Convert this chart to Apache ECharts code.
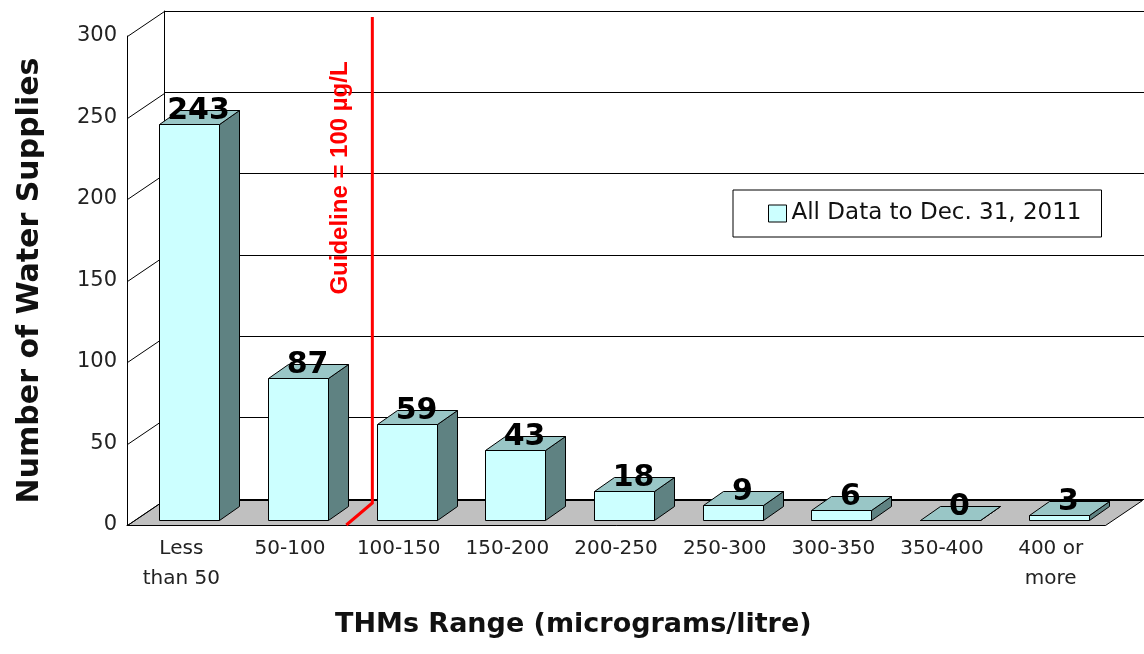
<!DOCTYPE html>
<html>
<head>
<meta charset="utf-8">
<script src="https://cdn.jsdelivr.net/npm/echarts@6/dist/echarts.min.js"></script>
<style>
  html, body { margin: 0; padding: 0; background: #fff; }
  #chart { width: 1144px; height: 654px; }
</style>
</head>
<body>
<div id="chart"></div>
<script>
// THMs ranges (micrograms/litre) and number of water supplies in each
const categories = ['Less\nthan 50', '50-100', '100-150', '150-200', '200-250', '250-300', '300-350', '350-400', '400 or\nmore'];
const supplies = [243, 87, 59, 43, 18, 9, 6, 0, 3];
const yTicks = [0, 50, 100, 150, 200, 250, 300];
const seriesName = 'All Data to Dec. 31, 2011';
const guideline = 100;   // µg/L
const binWidth = 50;

// 3d look: depth of the wall and of the bars (pixels)
const DX = 37, DY = -25;
const BAR_FRONT = [8, -5];
const BAR_DEPTH = [20, -14];

const font = 'DejaVu Sans';

const crisp = v => Math.round(v) + 0.5;

function renderFloor(params, api) {
  const band = api.size([1, 0])[0];
  const l = api.coord([0, 0]);
  const r = api.coord([categories.length - 1, 0]);
  const x0 = crisp(l[0] - band / 2), x1 = crisp(r[0] + band / 2), y = crisp(l[1]);
  return {
    type: 'polygon',
    shape: { points: [[x0, y], [x1, y], [x1 + DX, y + DY], [x0 + DX, y + DY]] },
    style: { fill: '#c0c0c0', stroke: '#000', lineWidth: 1 }
  };
}

function renderSideWall(params, api) {
  const band = api.size([1, 0])[0];
  const p = api.coord([0, api.value(1)]);
  const x = crisp(p[0] - band / 2), y = crisp(p[1]);
  return {
    type: 'line',
    shape: { x1: x, y1: y, x2: x + DX, y2: y + DY },
    style: { stroke: '#000', lineWidth: 1 }
  };
}

function renderBar(params, api) {
  const i = api.value(0), v = api.value(1);
  const top = api.coord([i, v]);
  const base = api.coord([i, 0]);
  const band = api.size([1, 0])[0];
  const w = Math.round(band * 0.553);
  const x0 = crisp(top[0] - w / 2 + BAR_FRONT[0]), x1 = x0 + w;
  const yb = crisp(base[1] + BAR_FRONT[1]), yt = crisp(top[1] + BAR_FRONT[1]);
  const dx = BAR_DEPTH[0], dy = BAR_DEPTH[1];
  const line = { stroke: '#000', lineWidth: 1 };
  return {
    type: 'group',
    children: [
      { type: 'polygon', shape: { points: [[x1, yt], [x1 + dx, yt + dy], [x1 + dx, yb + dy], [x1, yb]] },
        style: Object.assign({ fill: '#5f8282' }, line) },
      { type: 'polygon', shape: { points: [[x0, yt], [x0 + dx, yt + dy], [x1 + dx, yt + dy], [x1, yt]] },
        style: Object.assign({ fill: '#99c6c6' }, line) },
      { type: 'polygon', shape: { points: [[x0, yt], [x1, yt], [x1, yb], [x0, yb]] },
        style: Object.assign({ fill: '#ccffff' }, line) },
      { type: 'text', x: (x0 + x1) / 2 + 9, y: yt + 2,
        style: { text: String(v), fill: '#000', font: 'bold 30px "' + font + '"', align: 'center', verticalAlign: 'bottom' } }
    ]
  };
}

function renderGuideline(params, api) {
  const idx = guideline / binWidth - 1;
  const band = api.size([1, 0])[0];
  const p = api.coord([idx, 0]);
  const x = p[0] + band / 2;
  const y = p[1];
  const yTop = api.coord([idx, yTicks[yTicks.length - 1]])[1] + DY + 6;
  const xs = x + 28;
  return {
    type: 'group',
    children: [
      { type: 'polyline', shape: { points: [[x + 2, y], [xs, y - 22], [xs, yTop]] },
        style: { stroke: '#ff0000', lineWidth: 3, fill: null } },
      { type: 'text', x: xs - 32, y: api.coord([idx, 200])[1] - 21, rotation: Math.PI / 2,
        style: { text: 'Guideline = ' + guideline + ' µg/L', fill: '#ff0000',
          font: 'bold 24px "Liberation Sans"', align: 'center', verticalAlign: 'middle' } }
    ]
  };
}

const chart = echarts.init(document.getElementById('chart'));
chart.setOption({
  animation: false,
  backgroundColor: '#fff',
  title: {
    text: 'THMs Range (micrograms/litre)',
    left: 335, top: 611, padding: 0,
    textStyle: { fontFamily: font, fontSize: 27, fontWeight: 'bold', color: '#111' }
  },
  legend: {
    data: [seriesName],
    left: 733, top: 190,
    padding: [12, 20, 12, 35],
    backgroundColor: '#fff',
    borderColor: '#000', borderWidth: 1,
    icon: 'rect', itemWidth: 18, itemHeight: 17,
    itemStyle: { borderColor: '#000', borderWidth: 1 },
    textStyle: { fontFamily: font, fontSize: 23, color: '#111' }
  },
  grid: [
    { left: 127, right: 39, top: 36, bottom: 129 },
    { left: 164, right: 0, top: 11, bottom: 155 }
  ],
  xAxis: [
    {
      type: 'category', gridIndex: 0, data: categories,
      axisLine: { lineStyle: { color: '#000', width: 1 } },
      axisTick: { inside: true, length: 7, lineStyle: { color: '#000' } },
      axisLabel: { interval: 0, margin: 9, fontFamily: font, fontSize: 20, lineHeight: 30, color: '#222' }
    },
    { type: 'category', gridIndex: 1, data: categories, show: false }
  ],
  yAxis: [
    {
      type: 'value', gridIndex: 0, min: 0, max: 300, interval: 50,
      name: 'Number of Water Supplies', nameLocation: 'middle', nameGap: 82,
      nameTextStyle: { fontFamily: font, fontSize: 30, fontWeight: 'bold', color: '#111' },
      axisLine: { show: true, lineStyle: { color: '#000', width: 1 } },
      axisTick: { show: false },
      splitLine: { show: false },
      axisLabel: { margin: 10, fontFamily: font, fontSize: 21, color: '#222' }
    },
    {
      type: 'value', gridIndex: 1, min: 0, max: 300, interval: 50,
      axisLine: { show: true, lineStyle: { color: '#000', width: 1 } },
      axisTick: { show: false },
      axisLabel: { show: false },
      splitLine: { show: true, lineStyle: { color: '#000', width: 1 } }
    }
  ],
  series: [
    { type: 'custom', name: 'floor', xAxisIndex: 0, yAxisIndex: 0, z: 1, silent: true,
      renderItem: renderFloor, data: [[0, 0]] },
    { type: 'custom', name: 'sideWall', xAxisIndex: 0, yAxisIndex: 0, z: 1, silent: true,
      renderItem: renderSideWall, data: yTicks.map(v => [0, v]) },
    { type: 'custom', name: seriesName, xAxisIndex: 0, yAxisIndex: 0, z: 3,
      itemStyle: { color: '#ccffff', borderColor: '#000', borderWidth: 1 },
      renderItem: renderBar, data: supplies.map((v, i) => [i, v]) },
    { type: 'custom', name: 'guideline', xAxisIndex: 0, yAxisIndex: 0, z: 4, silent: true,
      renderItem: renderGuideline, data: [[0, 0]] }
  ]
});
</script>
</body>
</html>
